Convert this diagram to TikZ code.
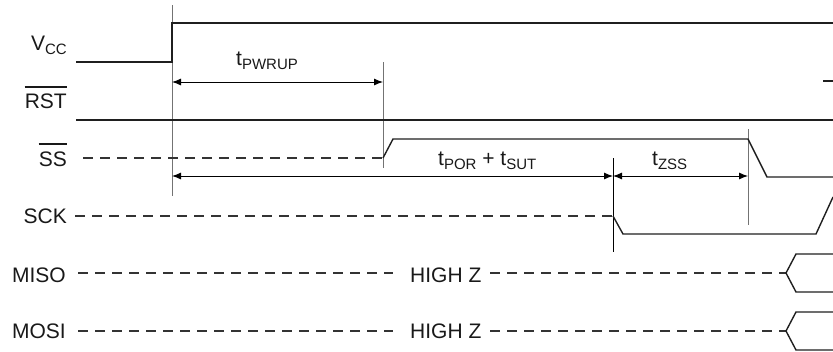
\documentclass[tikz,border=0pt]{standalone}
\usepackage{fontspec}
\setmainfont{Liberation Sans}
\usetikzlibrary{arrows.meta,calc}
\newcommand{\sigsub}[1]{\raisebox{-4pt}{\fontsize{15}{18}\selectfont #1}}
\begin{document}
\begin{tikzpicture}[x=1pt,y=-1pt,
  sig/.style={line width=1.4pt, draw=black!88, line join=miter},
  dsig/.style={line width=1.4pt, draw=black!80, dash pattern=on 10pt off 7pt},
  marker/.style={line width=0.9pt, draw=black!55},
  dimline/.style={line width=0.9pt, draw=black, {Latex[length=9pt,width=7pt]}-{Latex[length=9pt,width=7pt]}},
  lbl/.style={inner sep=0pt, text=black!90, font=\fontsize{21}{25}\selectfont},
  bar/.style={line width=1.2pt, draw=black!90},
]
\useasboundingbox (0,0) rectangle (833,351);

% reference marker lines
\draw[marker] (172,5) -- (172,196);
\draw[marker] (383,62) -- (383,168);
\draw[marker] (748,129) -- (748,225);
\draw[line width=0.9pt] (613,158) -- (613,252);

% labels
\node[lbl, anchor=base east] (vcc) at (67,50) {V\sigsub{CC}};
\node[lbl, anchor=base east] (rst) at (67,108) {RST};
\node[lbl, anchor=base east] (ss) at (67,166) {SS};
\node[lbl, anchor=base east] (sck) at (67,223) {SCK};
\node[lbl, anchor=base east] (miso) at (66,282) {MISO};
\node[lbl, anchor=base east] (mosi) at (66,338) {MOSI};
\node[lbl, anchor=base west] (hz1) at (410,282) {HIGH Z};
\node[lbl, anchor=base west] (hz2) at (410,338) {HIGH Z};
\node[lbl, anchor=base west] (tpw) at (236,65) {t\sigsub{PWRUP}};
\node[lbl, anchor=base west] (tpor) at (438,165) {t\sigsub{POR} + t\sigsub{SUT}};
\node[lbl, anchor=base west] (tzss) at (652,165) {t\sigsub{ZSS}};

% overlines
\draw[bar] ($(rst.base west)+(0,-21)$) -- ($(rst.base east)+(0,-21)$);
\draw[bar] ($(ss.base west)+(0,-22)$) -- ($(ss.base east)+(0,-22)$);

% VCC
\draw[sig] (76,62) -- (172,62) -- (172,23) -- (833,23);
% RST
\draw[sig] (76,120) -- (833,120);
\draw[sig] (823,81) -- (833,81);
% SS
\draw[dsig] (83,158) -- (383,158);
\draw[sig] (383,158) -- (393,139) -- (748,139) -- (767,177) -- (833,177);
% SCK
\draw[dsig] (75,216) -- (613,216);
\draw[sig] (613,216) -- (623,234) -- (816,234) -- (833,197);
% MISO
\draw[dsig] (78,273) -- (393,273);
\draw[dsig] (490,273) -- (786,273);
\draw[sig] (833,254) -- (796,254) -- (786,273) -- (796,292) -- (833,292);
% MOSI
\draw[dsig] (78,331) -- (393,331);
\draw[dsig] (490,331) -- (786,331);
\draw[sig] (833,312) -- (796,312) -- (786,331) -- (796,350) -- (833,350);

% dimension arrows
\coordinate (a0) at (172,82);
\coordinate (a1) at (383,82);
\coordinate (b0) at (172,176);
\coordinate (b1) at (613,176);
\coordinate (b2) at (748,176);
\draw[dimline] (a0) -- (a1);
\draw[dimline] (b0) -- (b1);
\draw[dimline] (b1) -- (b2);
\end{tikzpicture}
\end{document}
